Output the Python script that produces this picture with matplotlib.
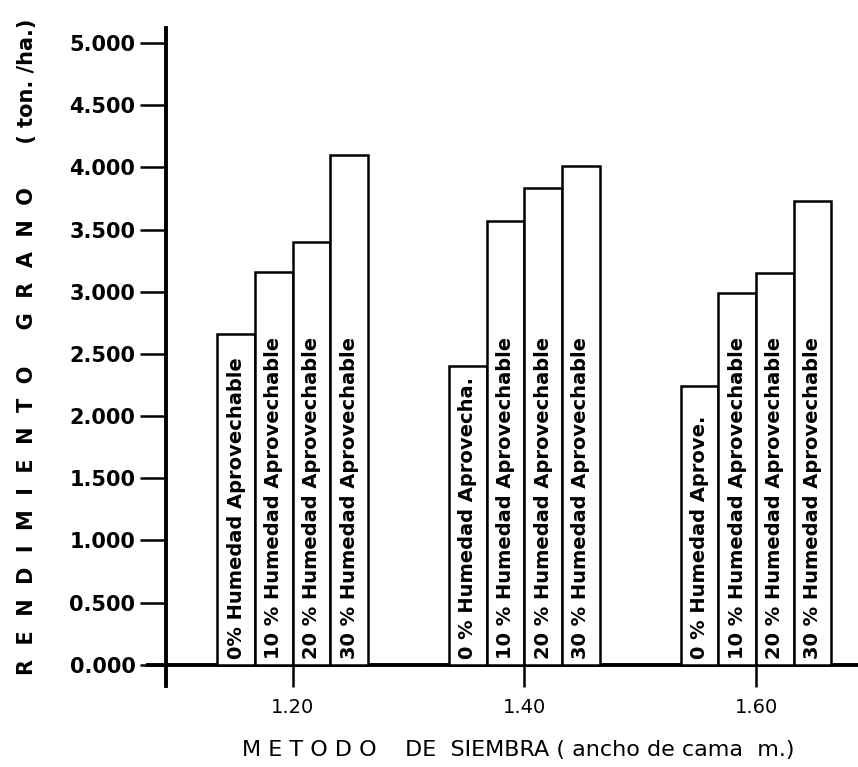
import matplotlib.pyplot as plt
import numpy as np

# ancho de cama (m) y rendimiento de grano (ton/ha) por nivel de humedad
anchos = [1.20, 1.40, 1.60]
tick_labels = ["1.20", "1.40", "1.60"]
h0 = [2.66, 2.40, 2.24]
h10 = [3.16, 3.57, 2.99]
h20 = [3.40, 3.83, 3.15]
h30 = [4.10, 4.01, 3.73]
textos = [
  ["0% Humedad Aprovechable", "10 % Humedad Aprovechable", "20 % Humedad Aprovechable", "30 % Humedad Aprovechable"],
  ["0 % Humedad Aprovecha.", "10 % Humedad Aprovechable", "20 % Humedad Aprovechable", "30 % Humedad Aprovechable"],
  ["0 % Humedad Aprove.", "10 % Humedad Aprovechable", "20 % Humedad Aprovechable", "30 % Humedad Aprovechable"],
]
yticks = [0.0, 0.5, 1.0, 1.5, 2.0, 2.5, 3.0, 3.5, 4.0, 4.5, 5.0]

plt.rcParams['font.family'] = ['DejaVu Sans']

W, H = 858, 767
fig = plt.figure(figsize=(W/100, H/100), dpi=100)
ax = fig.add_axes([148/W, (H-686)/H, 1-148/W, (686-28)/H])

width = 0.0325
series = [h0, h10, h20, h30]
X = np.array(anchos)
for i in range(0, 4):
  pos = X + (i-1.5)*width
  ax.bar(pos, series[i], width, color='white', edgecolor='black', linewidth=1.8, zorder=3)
  for j in range(0, len(anchos)):
    ax.text(pos[j], 0.05, textos[j][i], rotation=90, ha='center', va='bottom',
            fontsize=14, fontweight='bold', zorder=4)

ax.set_xlim(1.075, 1.688)
ax.set_ylim(-0.17, 5.12)

ax.spines['top'].set_visible(False)
ax.spines['right'].set_visible(False)
ax.spines['left'].set_position(('data', 1.0905))
ax.spines['bottom'].set_position(('data', 0))
ax.spines['left'].set_linewidth(2.8)
ax.spines['bottom'].set_linewidth(2.8)

ax.set_yticks(yticks)
ax.set_yticklabels(["%.3f" % v for v in yticks], fontsize=15, fontweight='bold')
ax.set_xticks(anchos)
ax.set_xticklabels(tick_labels, fontsize=14)
ax.tick_params(axis='y', length=19, width=1.8, pad=3)
ax.tick_params(axis='x', length=16, width=1.8, pad=8)

fig.text(27/W, 1-347/H,
         "R  E  N  D  I  M  I  E  N  T  O     G  R  A  N  O      ( ton. /ha.)",
         rotation=90, ha='center', va='center', fontsize=15, fontweight='bold')
fig.text(518/W, 1-750/H, "M E T O D O    DE  SIEMBRA ( ancho de cama  m.)",
         ha='center', va='center', fontsize=16)

fig.savefig("out.png", dpi=100)
